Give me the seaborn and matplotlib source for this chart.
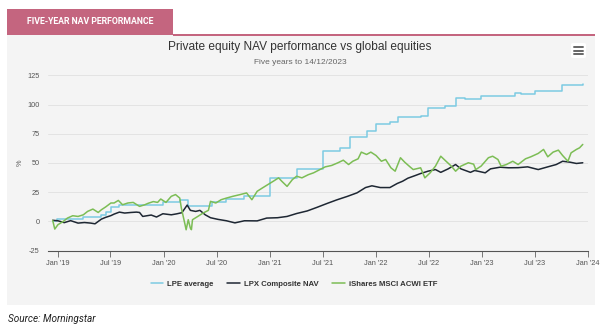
import numpy as np
import pandas as pd
import matplotlib
matplotlib.use("Agg")
import matplotlib.pyplot as plt
import matplotlib.patches as mpatches
from matplotlib.lines import Line2D
import seaborn as sns

# ---------------- data (times as decimal years, values in %) ----------------
lpe_t = [2018.95, 2018.99, 2019.24, 2019.41, 2019.45, 2019.50, 2019.58, 2019.99,
         2020.15, 2020.23, 2020.45, 2020.59, 2020.76, 2021.00, 2021.25, 2021.50,
         2021.66, 2021.75, 2021.91, 2022.00, 2022.13, 2022.21, 2022.42, 2022.49,
         2022.65, 2022.75, 2022.84, 2022.99, 2023.31, 2023.37, 2023.50, 2023.75, 2023.95]
lpe_v = [0, 2.5, 3.5, 5.5, 8.5, 12, 14.5, 16.5,
         18, 13, 17, 19.5, 21.5, 37.5, 45, 60,
         63, 72.5, 77, 83.5, 85, 89, 90, 97,
         99, 106, 104.5, 107.5, 109.5, 108.8, 111.5, 116.5, 117.5]

lpx_t = [2018.95, 2019.00, 2019.06, 2019.12, 2019.19, 2019.25, 2019.31, 2019.35, 2019.38,
         2019.41, 2019.45, 2019.50, 2019.53, 2019.58, 2019.63, 2019.69, 2019.74, 2019.77,
         2019.80, 2019.88, 2019.93, 2019.99, 2020.07, 2020.12, 2020.17, 2020.22, 2020.25,
         2020.30, 2020.34, 2020.39, 2020.44, 2020.51, 2020.59, 2020.67, 2020.76, 2020.88,
         2020.97, 2021.07, 2021.16, 2021.25, 2021.35, 2021.44, 2021.54, 2021.63, 2021.73,
         2021.82, 2021.90, 2021.96, 2022.04, 2022.13, 2022.20, 2022.25, 2022.30, 2022.37,
         2022.42, 2022.49, 2022.56, 2022.61, 2022.68, 2022.75, 2022.80, 2022.89, 2022.93,
         2023.03, 2023.08, 2023.17, 2023.25, 2023.34, 2023.43, 2023.53, 2023.62, 2023.70,
         2023.76, 2023.83, 2023.89, 2023.95]
lpx_v = [1, 0.6, -1, 0.7, -1.4, -0.9, -1.4, -2, 0,
         2, 3.5, 5, 6.3, 8, 7.2, 7.7, 8, 7.7,
         4.3, 5.5, 3.8, 6.6, 5.7, 6.5, 7.5, 14, 9.5,
         8.6, 9.5, 5.7, 3.2, 1.8, 0.6, -1.2, 0.6, 0.5,
         2.9, 3.2, 4.3, 6.8, 9, 12, 15.5, 18.5, 21.5,
         24.5, 29, 30.5, 29, 29, 32.5, 34.4, 37, 39.3,
         41, 43, 44.4, 42, 45, 48.7, 45, 42, 43.6,
         41.6, 45, 46.4, 45.9, 46, 46.7, 44.4, 46.7, 48.7,
         51.5, 50.7, 49.6, 50.2]

acwi_t = [2018.95, 2018.97, 2019.00, 2019.05, 2019.09, 2019.14, 2019.19, 2019.24, 2019.28,
          2019.33, 2019.38, 2019.41, 2019.45, 2019.50, 2019.53, 2019.57, 2019.61, 2019.66,
          2019.71, 2019.77, 2019.82, 2019.85, 2019.90, 2019.94, 2019.97, 2020.02, 2020.07,
          2020.11, 2020.15, 2020.165, 2020.20, 2020.21, 2020.23, 2020.25, 2020.26, 2020.27,
          2020.32, 2020.37, 2020.42, 2020.44, 2020.49, 2020.54, 2020.59, 2020.65, 2020.72,
          2020.78, 2020.83, 2020.88, 2020.93, 2020.98, 2021.03, 2021.08, 2021.11, 2021.16,
          2021.21, 2021.25, 2021.30, 2021.36, 2021.41, 2021.47, 2021.52, 2021.58, 2021.64,
          2021.69, 2021.74, 2021.78, 2021.83, 2021.86, 2021.91, 2021.95, 2022.00, 2022.05,
          2022.09, 2022.14, 2022.18, 2022.23, 2022.27, 2022.32, 2022.35, 2022.42, 2022.46,
          2022.51, 2022.56, 2022.61, 2022.66, 2022.71, 2022.75, 2022.80, 2022.87, 2022.92,
          2022.94, 2022.99, 2023.06, 2023.10, 2023.15, 2023.18, 2023.23, 2023.29, 2023.34,
          2023.41, 2023.46, 2023.53, 2023.58, 2023.62, 2023.67, 2023.72, 2023.76, 2023.81,
          2023.84, 2023.89, 2023.92, 2023.95]
acwi_v = [1, -6.5, -2.8, 0, 2.9, 4.9, 4.3, 5.7, 8.6,
          10.6, 7.7, 10, 12.4, 15.8, 15.8, 18, 14.3, 15.8,
          16.3, 12.9, 14.3, 15.5, 17, 16.3, 19.2, 16.3, 21.5,
          23, 20, 11.5, -2.8, -7.1, 1.5, -5.7, -7, 1.5,
          4.3, 7.2, 9.5, 17.2, 15.8, 18.6, 20, 21.5, 23,
          24.4, 18.6, 25.8, 28.7, 31.5, 34.4, 37.3, 34.4, 30,
          35.8, 38.7, 37.3, 40, 41.6, 44.4, 46.7, 47.9, 50.2,
          52.4, 48.7, 51.5, 53.6, 59.3, 57.3, 59.3, 56.4, 51.5,
          53, 45.9, 43, 54.5, 50.7, 46.7, 44.4, 45.9, 37.3,
          41.6, 47.3, 55.8, 51.5, 47.3, 43, 47.3, 50.2, 49,
          44.4, 47.3, 54.5, 55.8, 53, 47.3, 48.7, 51.5, 48.7,
          53.6, 55.3, 58.2, 61.6, 55.3, 59.3, 61, 56.4, 51.5,
          58.7, 61.6, 63, 65.9]

series_names = ["LPE average", "LPX Composite NAV", "iShares MSCI ACWI ETF"]
series_colors = ["#7ccbe3", "#1e2733", "#7cbd55"]
x_tick_labels = ["Jan '19", "Jul '19", "Jan '20", "Jul '20", "Jan '21", "Jul '21",
                 "Jan '22", "Jul '22", "Jan '23", "Jul '23", "Jan '24"]
x_tick_dates = ["2019-01-01", "2019-07-01", "2020-01-01", "2020-07-01", "2021-01-01",
                "2021-07-01", "2022-01-01", "2022-07-01", "2023-01-01", "2023-07-01",
                "2024-01-01"]
y_ticks = [-25, 0, 25, 50, 75, 100, 125]


def to_dates(ts):
    out = []
    for t in ts:
        y = int(np.floor(t))
        out.append(pd.Timestamp(year=y, month=1, day=1) + pd.Timedelta(days=(t - y) * 365.25))
    return pd.to_datetime(out)


df_lpe = pd.DataFrame({"date": to_dates(lpe_t), "value": lpe_v})
df_lpx = pd.DataFrame({"date": to_dates(lpx_t), "value": lpx_v})
df_acwi = pd.DataFrame({"date": to_dates(acwi_t), "value": acwi_v})

# ---------------- figure ----------------
sns.set_theme(style="white")
plt.rcParams["font.family"] = ["Liberation Sans", "DejaVu Sans"]

W, H = 600, 331
fig = plt.figure(figsize=(W / 100, H / 100), dpi=100)
fig.patch.set_facecolor("white")


def fx(px):
    return px / W


def fy(py):
    return 1 - py / H


panel_bg = "#f4f4f4"
pink = "#c4657f"
fig.patches.append(mpatches.Rectangle((fx(7), fy(305)), fx(595) - fx(7), fy(35) - fy(305),
                                      transform=fig.transFigure, facecolor=panel_bg,
                                      edgecolor="none", zorder=-2))
fig.patches.append(mpatches.Rectangle((fx(7), fy(35)), fx(173) - fx(7), fy(9) - fy(35),
                                      transform=fig.transFigure, facecolor=pink,
                                      edgecolor="none", zorder=-1))
fig.patches.append(mpatches.Rectangle((fx(173), fy(35.5)), fx(595) - fx(173), fy(34) - fy(35.5),
                                      transform=fig.transFigure, facecolor=pink,
                                      edgecolor="none", zorder=-1))
fig.text(fx(90), fy(22), "FIVE-YEAR NAV PERFORMANCE", color="white", fontsize=6.3,
         fontweight="bold", ha="center", va="center", family=["Roboto", "DejaVu Sans"])

# hamburger button
fig.patches.append(mpatches.FancyBboxPatch((fx(571), fy(58)), fx(586) - fx(571), fy(43) - fy(58),
                                           boxstyle="round,pad=0,rounding_size=0.004",
                                           transform=fig.transFigure, facecolor="white",
                                           edgecolor="none", zorder=2))
for py in (47, 50.5, 54):
    fig.lines.append(Line2D([fx(574), fx(583)], [fy(py), fy(py)], transform=fig.transFigure,
                            color="#666666", lw=1.4, zorder=3))

fig.text(fx(300), fy(47), "Private equity NAV performance vs global equities",
         fontsize=8.6, color="#333333", ha="center", va="center")
fig.text(fx(300), fy(62), "Five years to 14/12/2023", fontsize=6.0, color="#666666",
         ha="center", va="center")

# axes
ax = fig.add_axes([fx(48), fy(250.7), fx(588) - fx(48), fy(75.3) - fy(250.7)])
ax.set_facecolor("none")

sns.lineplot(data=df_lpe, x="date", y="value", ax=ax, color=series_colors[0], lw=1.1,
             drawstyle="steps-post", zorder=3)
sns.lineplot(data=df_lpx, x="date", y="value", ax=ax, color=series_colors[1], lw=1.1, zorder=4)
sns.lineplot(data=df_acwi, x="date", y="value", ax=ax, color=series_colors[2], lw=1.1, zorder=5)

ax.set_xlim(to_dates([2018.906])[0], pd.Timestamp("2024-01-01"))
ax.set_ylim(-25, 125)
ax.set_yticks(y_ticks)
ax.set_yticklabels([str(v) for v in y_ticks])
ax.set_xticks(pd.to_datetime(x_tick_dates))
ax.set_xticklabels(x_tick_labels)
ax.grid(axis="y", color="#e3e3e3", lw=0.7)
ax.grid(axis="x", visible=False)
for s in ("top", "right", "left"):
    ax.spines[s].set_visible(False)
ax.spines["bottom"].set_color("#555555")
ax.spines["bottom"].set_linewidth(0.8)
ax.tick_params(axis="x", direction="out", length=4, width=0.7, color="#777777",
               labelsize=5.3, labelcolor="#555555", pad=3, bottom=True)
ax.tick_params(axis="y", length=0, labelsize=5.3, labelcolor="#555555", pad=6)
ax.set_xlabel("")
ax.set_ylabel("")
fig.text(fx(20), fy(163), "%", rotation=90, fontsize=5.3, color="#555555",
         ha="center", va="center")

handles = [Line2D([0], [0], color=c, lw=1.1) for c in series_colors]
fig.legend(handles, series_names, loc="center", bbox_to_anchor=(fx(294), fy(284)),
           ncol=3, frameon=False, prop={"size": 5.6, "weight": "bold"},
           labelcolor="#333333", handlelength=1.6, handletextpad=0.5, columnspacing=1.8)

fig.text(fx(8), fy(319), "Source: Morningstar", fontsize=7.2, style="italic",
         color="#222222", ha="left", va="center", family=["Roboto", "DejaVu Sans"])

fig.savefig("out.png", dpi=100, facecolor="white")
